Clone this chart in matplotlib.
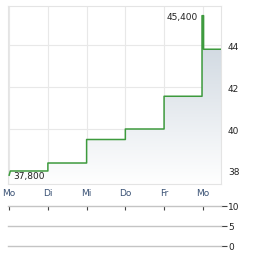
import numpy as np
import matplotlib
matplotlib.use('Agg')
import matplotlib.pyplot as plt
from matplotlib.colors import LinearSegmentedColormap

# data (days since first Monday, price in thousands)
t = [0.0, 0.03, 1.0, 2.0, 3.0, 4.0, 4.98, 5.02, 5.47]
price = [37.8, 38.0, 38.38, 39.5, 40.0, 41.56, 45.4, 43.8, 43.8]
day_pos = [0, 1, 2, 3, 4, 5]
day_labels = ['Mo', 'Di', 'Mi', 'Do', 'Fr', 'Mo']
price_ticks = [38, 40, 42, 44]
vol_ticks = [0, 5, 10]
hi_label = '45,400'
lo_label = '37,800'

XMIN, XMAX = -0.03, 5.47
YMIN, YMAX = 37.38, 45.86

plt.rcParams['font.family'] = 'DejaVu Sans'
fig = plt.figure(figsize=(2.64, 2.55), dpi=100)

# ---- price panel
ax = fig.add_axes([8 / 264, 1 - 185 / 255, 213 / 264, 178 / 255])
ax.set_xlim(XMIN, XMAX)
ax.set_ylim(YMIN, YMAX)

# step path
xs, ys = [t[0]], [price[0]]
for i in range(1, len(t)):
    if i == 1:
        xs.append(t[i]); ys.append(price[i])
        continue
    xs.append(t[i]); ys.append(price[i - 1])
    xs.append(t[i]); ys.append(price[i])

# gradient fill under the line
poly_x = xs + [xs[-1], xs[0]]
poly_y = ys + [YMIN, YMIN]
patch = ax.fill(poly_x, poly_y, facecolor='none', edgecolor='none')[0]
cmap = LinearSegmentedColormap.from_list('g', ['#ffffff', '#cdd6df'])
grad = np.linspace(0, 1, 256).reshape(-1, 1)
im = ax.imshow(grad, extent=[XMIN, XMAX, YMIN, 44.6], origin='lower',
               aspect='auto', cmap=cmap, zorder=1)
im.set_clip_path(patch)

ax.plot(xs[:-1], ys[:-1], color='#3d9a3d', lw=1.1, zorder=3)
ax.plot(xs[-2:], ys[-2:], color='#8cc48c', lw=1.3, zorder=3)

ax.set_xticks(day_pos)
ax.set_yticks(price_ticks)
ax.grid(True, color='#e8e8e8', lw=0.8, zorder=0)
ax.set_axisbelow(True)
for s in ax.spines.values():
    s.set_color('#e4e4e4')
    s.set_linewidth(0.8)
ax.yaxis.tick_right()
ax.tick_params(axis='y', length=0, pad=5, labelsize=6.5, labelcolor='#222222')
ax.tick_params(axis='x', length=0, pad=3, labelsize=6.5, labelcolor='#3a5275')
ax.set_xticklabels(day_labels)

ax.text(4.87, 45.38, hi_label, ha='right', va='center', fontsize=6.5, color='#222222', zorder=4)
ax.text(0.1, 37.78, lo_label, ha='left', va='center', fontsize=6.5, color='#222222', zorder=4)

# ---- volume panel
ax2 = fig.add_axes([8 / 264, 1 - 247 / 255, 213 / 264, 40 / 255])
ax2.set_xlim(XMIN, XMAX)
ax2.set_ylim(0, 10)
for v in vol_ticks:
    ax2.axhline(v, color='#c4c4c4', lw=1.0, clip_on=False)
for s in ax2.spines.values():
    s.set_visible(False)
ax2.xaxis.tick_top()
ax2.set_xticks(day_pos)
ax2.set_xticklabels([])
ax2.tick_params(axis='x', direction='in', length=3, color='#444444', width=0.8)
ax2.yaxis.tick_right()
ax2.set_yticks(vol_ticks)
ax2.tick_params(axis='y', length=4, width=0.8, color='#444444', pad=1,
                labelsize=6.5, labelcolor='#222222')

fig.savefig('out.png', dpi=100)
